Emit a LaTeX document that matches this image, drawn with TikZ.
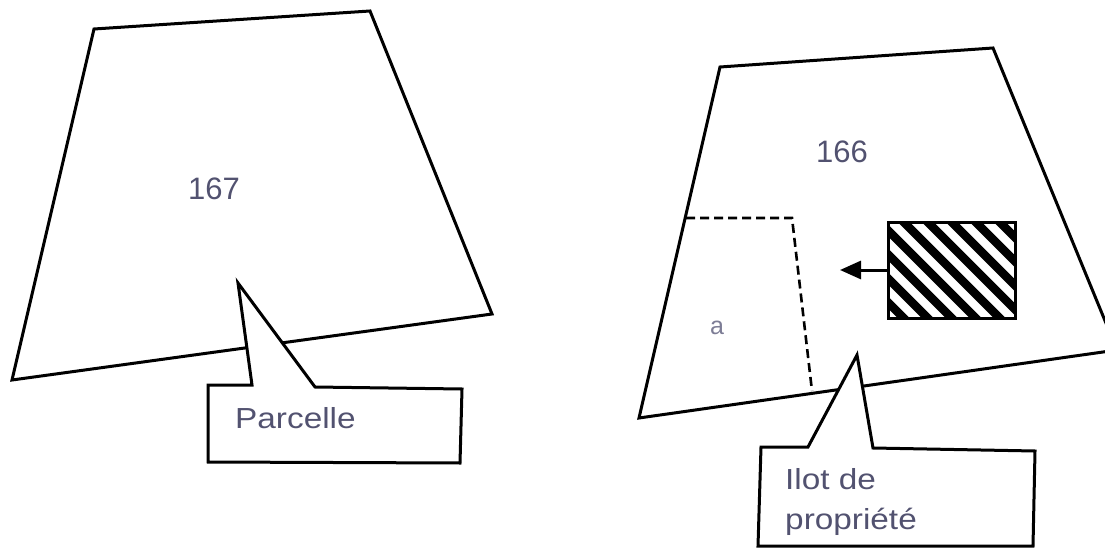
\documentclass[tikz,border=0pt]{standalone}
\usepackage{fontspec}
\setmainfont{Liberation Sans}
\newfontfamily\calloutfont[FakeStretch=1.15]{Liberation Sans}
\usetikzlibrary{arrows.meta}
\definecolor{labelink}{RGB}{82,82,112}
\definecolor{faintink}{RGB}{125,125,150}
\tikzset{
  parcel/.style={draw=black, line width=3pt, line join=miter},
  callout/.style={draw=black, fill=white, line width=3pt, line join=miter},
  limit/.style={draw=black, line width=2.6pt, dash pattern=on 9pt off 5pt},
  number/.style={text=labelink, font=\fontsize{31}{36}\selectfont, inner sep=0pt},
  smalllabel/.style={text=faintink, font=\fontsize{25}{28}\selectfont, inner sep=0pt},
  calltext/.style={text=labelink, font=\calloutfont\fontsize{29}{40}\selectfont,
                   inner sep=0pt, anchor=base west},
  hatchbox/.style={draw=black, line width=3pt, inner sep=0pt,
                   minimum width=127pt, minimum height=96pt,
                   path picture={
                     \foreach \i in {-7,...,7}
                       \draw[line width=8.5pt]
                         ([shift={(\i*24pt-110pt,110pt)}]path picture bounding box.center)
                         -- ++(220pt,-220pt);
                   }},
  push/.style={line width=3pt, -{Triangle[length=21pt,width=18pt]}}
}
\begin{document}
\begin{tikzpicture}[x=1pt,y=-1pt]
\useasboundingbox (0,0) rectangle (1105,548);
\fill[white] (0,0) rectangle (1105,548);

% parcel 167
\draw[parcel] (94,29) -- (370,11) -- (492,314) -- (12,380) -- cycle;
\node[number] (n167) at (214,189) {167};

% parcel 166, its right corner lies just outside the frame
\begin{scope}
  \clip (0,0) rectangle (1105,548);
  \draw[parcel] (720,67) -- (993,48) -- (1117,350) -- (639,418) -- cycle;
\end{scope}
\node[number] (n166) at (842,152) {166};

% ownership block boundary inside parcel 166
\draw[limit] (686,218) -- (792,218) -- (812,391);
\node[smalllabel] (suba) at (717,328) {a};

% hatched building and its displacement arrow
\node[hatchbox] (bldg) at (951.5,270) {};
\coordinate (shift) at (840,270);
\draw[push] (bldg.west) -- (shift);

% callouts
\draw[callout] (208,385) -- (252,385) -- (238,283) -- (315,387)
               -- (462,389) -- (460,463) -- (208,462) -- cycle;
\node[calltext] (lparc) at (235,428) {Parcelle};

\draw[callout] (761,447) -- (808,447) -- (857,355) -- (873,448)
               -- (1035,451) -- (1033,546) -- (758,546) -- cycle;
\node[calltext] (lilot1) at (785,489) {Ilot de};
\node[calltext] (lilot2) at (785,529) {propriété};
\end{tikzpicture}
\end{document}
